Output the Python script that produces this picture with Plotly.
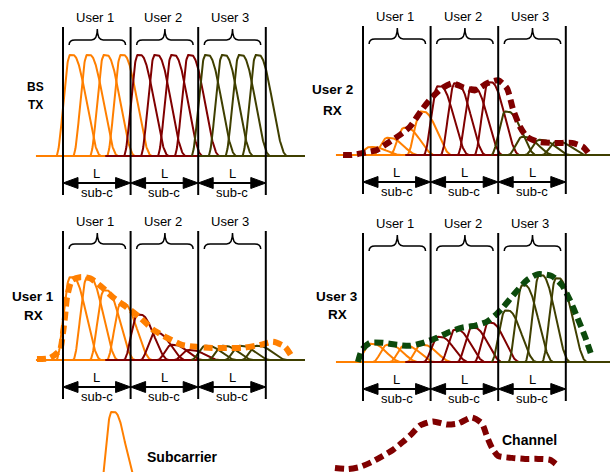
import numpy as np
import plotly.graph_objects as go

# ---------------- data ----------------
USER_LABELS = ["User 1", "User 2", "User 3"]
BAND_EDGES = [0, 4, 8, 12]                       # in sub-carrier units (L = 4 sub-c per user)
USER_COLORS = ["#ff7f00", "#800000", "#3f3f00"]

# peak position of each sub-carrier (sub-carrier units), per user
SUBCARRIER_PEAKS = [
    [0.42, 1.42, 2.42, 3.42],
    [4.42, 5.42, 6.42, 7.42],
    [8.42, 9.42, 10.42, 11.42],
]

# relative sub-carrier amplitudes (per user) for each panel
BS_TX_AMP = [[1.0, 1.0, 1.0, 1.0], [1.0, 1.0, 1.0, 1.0], [1.0, 1.0, 1.0, 1.0]]
U2_RX_AMP = [[0.08, 0.17, 0.27, 0.43], [0.68, 0.71, 0.67, 0.72], [0.43, 0.18, 0.15, 0.13]]
U1_RX_AMP = [[0.82, 0.82, 0.69, 0.56], [0.45, 0.27, 0.15, 0.10], [0.14, 0.14, 0.14, 0.14]]
U3_RX_AMP = [[0.18, 0.17, 0.16, 0.17], [0.25, 0.32, 0.34, 0.39], [0.51, 0.76, 0.86, 0.83]]

# channel responses (sub-carrier units, amplitude)
U2_CH_X = [-1.18, -0.65, 0.0, 0.83, 1.48, 2.19, 2.78, 3.49, 4.08, 4.67, 5.27, 5.92, 6.63,
           7.34, 7.99, 8.52, 8.88, 9.29, 9.70, 10.36, 11.07, 11.78, 12.37, 13.02, 13.43]
U2_CH_Y = [0.0, 0.0, 0.02, 0.05, 0.12, 0.20, 0.28, 0.45, 0.57, 0.66, 0.71, 0.67, 0.64,
           0.71, 0.74, 0.66, 0.45, 0.28, 0.18, 0.13, 0.12, 0.12, 0.12, 0.08, 0.0]

U1_CH_X = [-1.54, -0.77, -0.18, 0.0, 0.12, 0.24, 0.53, 1.01, 1.60, 2.31, 2.96, 3.79, 4.56,
           5.33, 6.15, 7.04, 7.93, 8.82, 9.70, 10.65, 11.66, 12.43, 13.14, 13.55]
U1_CH_Y = [0.01, 0.02, 0.10, 0.27, 0.43, 0.62, 0.79, 0.82, 0.81, 0.72, 0.62, 0.52, 0.42,
           0.30, 0.22, 0.15, 0.13, 0.12, 0.12, 0.12, 0.15, 0.18, 0.13, 0.03]

U3_CH_X = [-0.30, -0.06, 0.41, 1.18, 2.01, 2.78, 3.55, 4.38, 5.15, 5.86, 6.63, 7.34, 7.81,
           8.28, 8.88, 9.70, 10.36, 11.18, 11.78, 12.25, 12.66, 13.14, 13.55]
U3_CH_Y = [0.0, 0.12, 0.19, 0.19, 0.17, 0.16, 0.19, 0.24, 0.30, 0.34, 0.36, 0.40, 0.46,
           0.54, 0.66, 0.81, 0.87, 0.85, 0.76, 0.61, 0.45, 0.25, 0.05]

LEG_CH_X = [-1.66, -0.89, -0.18, 0.53, 1.18, 1.78, 2.37, 2.90, 3.37, 4.14, 4.97, 5.62, 6.45,
            7.04, 7.34, 7.63, 7.99, 8.82, 9.59, 10.36, 11.07, 11.54]
LEG_CH_Y = [0.02, 0.01, 0.03, 0.08, 0.14, 0.20, 0.28, 0.36, 0.44, 0.48, 0.45, 0.46, 0.52,
            0.46, 0.33, 0.22, 0.14, 0.12, 0.11, 0.11, 0.10, 0.04]
LEG_SUB_PEAK = 2.87
LEG_SUB_AMP = 1.0

PANEL_TITLES = [["BS", "TX"], ["User 2", "RX"], ["User 1", "RX"], ["User 3", "RX"]]
LEGEND_TEXT = ["Subcarrier", "Channel"]

# ---------------- layout constants ----------------
W, H = 610, 472
PXU, PYU = 16.9, 101.0          # pixels per sub-carrier unit / per amplitude unit
BASE_SPANS = [(-1.6, 4.5), (2.5, 8.5), (8.0, 14.7)]
WL, PLAT, WR = 0.83, 0.18, 1.66
FONT = "Liberation Sans, Arial, Helvetica, sans-serif"
CH_COLORS = ["#800000", "#ff7f00", "#0c4a0c"]

# panel geometry: origin px, baseline px, x px range, y px range
PANELS = [
    dict(ox=63, base=156, xp=(0, 305), yp=(0, 200)),     # BS TX
    dict(ox=363, base=155, xp=(305, 610), yp=(0, 200)),  # User 2 RX
    dict(ox=63, base=360, xp=(0, 305), yp=(205, 405)),   # User 1 RX
    dict(ox=363, base=362, xp=(305, 610), yp=(205, 405)),# User 3 RX
    dict(ox=63, base=513, xp=(0, 305), yp=(400, 472)),   # legend subcarrier
    dict(ox=363, base=470, xp=(305, 610), yp=(400, 472)),# legend channel
]
PANEL_AMPS = [BS_TX_AMP, U2_RX_AMP, U1_RX_AMP, U3_RX_AMP]
PANEL_CH = [None, (U2_CH_X, U2_CH_Y), (U1_CH_X, U1_CH_Y), (U3_CH_X, U3_CH_Y)]
TITLE_POS = [(35, 87, 105), (332, 90, 110), (33, 296, 315), (337, 296, 314)]
TITLE_SIZE = [12, 13.5, 13.5, 13.5]


def pulse(p, a):
    x = np.arange(p - WL, p + PLAT + WR + 1e-9, 0.02)
    y = np.zeros_like(x)
    left = x < p
    y[left] = np.cos(np.pi / 2 * (p - x[left]) / WL) ** 2
    mid = (x >= p) & (x <= p + PLAT)
    y[mid] = 1.0
    right = x > p + PLAT
    y[right] = np.cos(np.pi / 2 * np.clip((x[right] - p - PLAT) / WR, 0, 1)) ** 2
    return x, a * y


fig = go.Figure()
layout = dict(width=W, height=H, margin=dict(l=0, r=0, t=0, b=0),
              paper_bgcolor="white", plot_bgcolor="rgba(0,0,0,0)", showlegend=False)
shapes, annotations = [], []

for i, P in enumerate(PANELS):
    n = "" if i == 0 else str(i + 1)
    xr = [(P["xp"][0] - P["ox"]) / PXU, (P["xp"][1] - P["ox"]) / PXU]
    yr = [(P["base"] - P["yp"][1]) / PYU, (P["base"] - P["yp"][0]) / PYU]
    layout["xaxis" + n] = dict(domain=[P["xp"][0] / W, P["xp"][1] / W], range=xr, visible=False,
                               anchor="y" + n, fixedrange=True)
    layout["yaxis" + n] = dict(domain=[1 - P["yp"][1] / H, 1 - P["yp"][0] / H], range=yr,
                               visible=False, anchor="x" + n, fixedrange=True)

for i in range(4):
    n = "" if i == 0 else str(i + 1)
    xa, ya = "x" + n, "y" + n
    amps = PANEL_AMPS[i]
    for u in range(3):
        c = USER_COLORS[u]
        s0, s1 = BASE_SPANS[u]
        fig.add_trace(go.Scatter(x=[s0, s1], y=[0, 0], xaxis=xa, yaxis=ya, mode="lines",
                                 line=dict(color=c, width=2), hoverinfo="skip"))
        for p, a in zip(SUBCARRIER_PEAKS[u], amps[u]):
            px_, py_ = pulse(p, a)
            fig.add_trace(go.Scatter(x=px_, y=py_, xaxis=xa, yaxis=ya, mode="lines",
                                     line=dict(color=c, width=2), hoverinfo="skip"))
    if PANEL_CH[i] is not None:
        cx, cy = PANEL_CH[i]
        fig.add_trace(go.Scatter(x=cx, y=cy, xaxis=xa, yaxis=ya, mode="lines",
                                 line=dict(color=CH_COLORS[i - 1], width=6, dash="9px,5px",
                                           shape="spline", smoothing=0.6),
                                 hoverinfo="skip"))
    # band boundary lines
    for b in BAND_EDGES:
        shapes.append(dict(type="line", xref=xa, yref=ya, x0=b, x1=b, y0=-39 / PYU, y1=129 / PYU,
                           line=dict(color="black", width=2)))
    yE, yM, yT = 111 / PYU, 116 / PYU, 127 / PYU
    yArr = -27 / PYU
    hl, hh = 15 / PXU, 5.5 / PYU
    for u in range(3):
        b0, b1 = BAND_EDGES[u], BAND_EDGES[u + 1]
        x0, x1, xc = b0 + 0.36, b1 - 0.3, (b0 + b1) / 2 + 0.03
        d = 0.35
        path = (f"M{x0},{yE} Q{x0},{yM} {x0 + d},{yM} L{xc - d},{yM} Q{xc},{yM} {xc},{yT} "
                f"Q{xc},{yM} {xc + d},{yM} L{x1 - d},{yM} Q{x1},{yM} {x1},{yE}")
        shapes.append(dict(type="path", xref=xa, yref=ya, path=path,
                           line=dict(color="black", width=1.5)))
        # double arrow
        shapes.append(dict(type="line", xref=xa, yref=ya, x0=b0 + hl * 0.8, x1=b1 - hl * 0.8,
                           y0=yArr, y1=yArr, line=dict(color="black", width=2)))
        for tip, dirn in ((b0, 1), (b1, -1)):
            tri = (f"M{tip},{yArr} L{tip + dirn * hl},{yArr + hh} "
                   f"L{tip + dirn * hl},{yArr - hh} Z")
            shapes.append(dict(type="path", xref=xa, yref=ya, path=tri, fillcolor="black",
                               line=dict(color="black", width=1)))
        annotations.append(dict(xref=xa, yref=ya, x=(b0 + b1) / 2 - 0.1, y=139 / PYU,
                                text=USER_LABELS[u], showarrow=False,
                                font=dict(family=FONT, size=13, color="black"),
                                xanchor="center", yanchor="middle"))
        annotations.append(dict(xref=xa, yref=ya, x=(b0 + b1) / 2, y=-17 / PYU, text="L",
                                showarrow=False, font=dict(family=FONT, size=13, color="black"),
                                xanchor="center", yanchor="middle"))
        annotations.append(dict(xref=xa, yref=ya, x=(b0 + b1) / 2, y=-36 / PYU, text="sub-c",
                                showarrow=False, font=dict(family=FONT, size=13, color="black"),
                                xanchor="center", yanchor="middle"))
    tx, t1, t2 = TITLE_POS[i]
    for txt, ty in zip(PANEL_TITLES[i], (t1, t2)):
        annotations.append(dict(xref="paper", yref="paper", x=tx / W, y=1 - ty / H, text=f"<b>{txt}</b>",
                                showarrow=False, font=dict(family=FONT, size=TITLE_SIZE[i], color="black"),
                                xanchor="center", yanchor="middle"))

# legend samples
sx, sy = pulse(LEG_SUB_PEAK, LEG_SUB_AMP)
fig.add_trace(go.Scatter(x=sx, y=sy, xaxis="x5", yaxis="y5", mode="lines",
                         line=dict(color=USER_COLORS[0], width=2), hoverinfo="skip"))
fig.add_trace(go.Scatter(x=LEG_CH_X, y=LEG_CH_Y, xaxis="x6", yaxis="y6", mode="lines",
                         line=dict(color=CH_COLORS[0], width=6, dash="9px,5px",
                                   shape="spline", smoothing=0.6), hoverinfo="skip"))
annotations.append(dict(xref="paper", yref="paper", x=145 / W, y=1 - 457 / H,
                        text=f"<b>{LEGEND_TEXT[0]}</b>", showarrow=False,
                        font=dict(family=FONT, size=14, color="black"),
                        xanchor="left", yanchor="middle"))
annotations.append(dict(xref="paper", yref="paper", x=500 / W, y=1 - 440 / H,
                        text=f"<b>{LEGEND_TEXT[1]}</b>", showarrow=False,
                        font=dict(family=FONT, size=14, color="black"),
                        xanchor="left", yanchor="middle"))

layout["shapes"] = shapes
layout["annotations"] = annotations
fig.update_layout(**layout)
fig.write_html("out.html", config={"displayModeBar": False, "staticPlot": True},
               post_script="document.body.style.margin='0';document.body.style.overflow='hidden';")
